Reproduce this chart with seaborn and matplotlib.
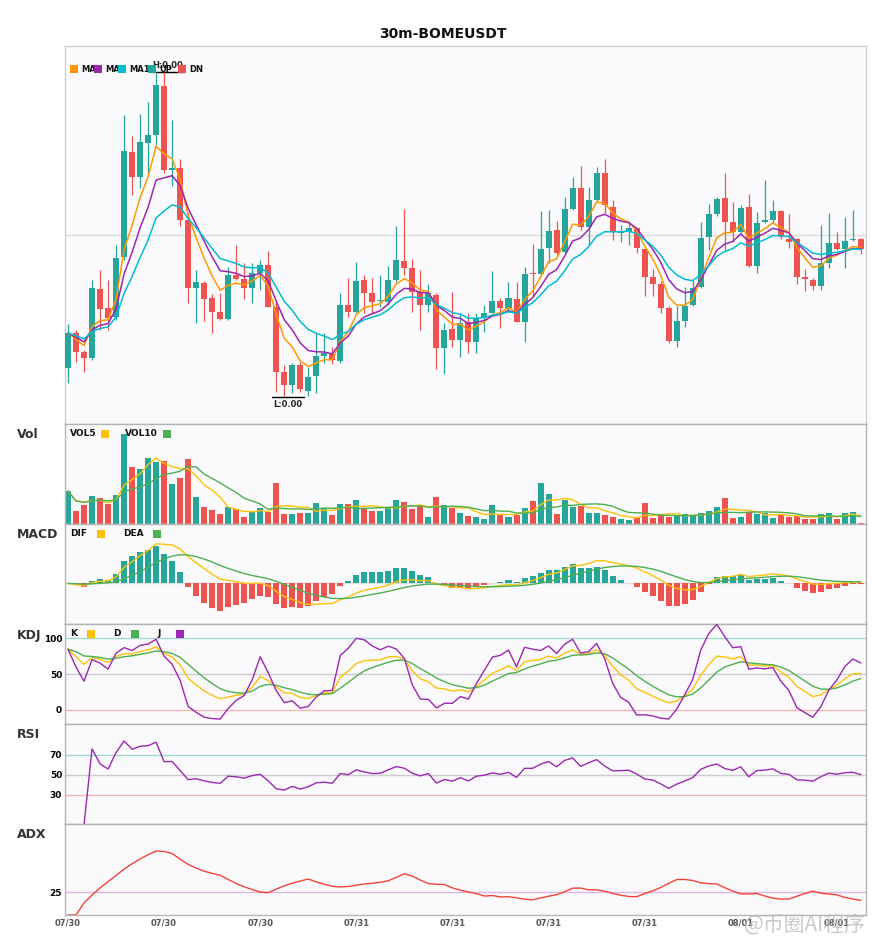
import numpy as np
import pandas as pd
import matplotlib
matplotlib.use("Agg")
import matplotlib.pyplot as plt
import seaborn as sns
from matplotlib.patches import Rectangle

TITLE = "30m-BOMEUSDT"
PRICE_UNIT = 1e-6  # list values below are in micro-USDT

open_u = [767, 802, 783, 777, 846, 827, 818, 878, 983, 958, 992, 1000, 1049, 965, 967, 915, 847, 852, 837, 823,
          816, 860, 856, 847, 862, 870, 828, 763, 750, 770, 744, 759, 779, 781, 774, 830, 823, 855, 842, 834,
          833, 855, 874, 867, 843, 830, 840, 787, 806, 795, 813, 793, 817, 822, 834, 827, 836, 813, 862, 861,
          887, 905, 883, 926, 947, 908, 935, 962, 928, 902, 903, 907, 886, 858, 851, 827, 794, 814, 830, 848,
          898, 921, 937, 913, 903, 928, 869, 913, 915, 924, 896, 896, 858, 855, 849, 872, 892, 886, 895, 896]
high_u = [811, 805, 785, 855, 865, 855, 890, 1020, 999, 1021, 1033, 1062, 1063, 1015, 976, 923, 865, 854, 841, 842,
          868, 890, 872, 872, 875, 884, 832, 770, 772, 773, 768, 802, 802, 788, 842, 857, 873, 860, 857, 860,
          869, 909, 926, 876, 865, 851, 842, 812, 843, 822, 822, 822, 830, 864, 837, 853, 853, 868, 891, 924,
          925, 914, 938, 958, 969, 948, 968, 976, 935, 910, 912, 907, 888, 866, 854, 829, 829, 848, 855, 913,
          931, 938, 962, 933, 930, 941, 923, 955, 935, 925, 921, 897, 866, 857, 910, 922, 903, 918, 925, 897]
low_u = [752, 773, 763, 775, 805, 805, 815, 875, 940, 947, 962, 990, 962, 949, 909, 832, 812, 814, 802, 815,
         815, 855, 836, 832, 845, 828, 743, 738, 742, 743, 739, 742, 772, 771, 772, 818, 822, 822, 821, 828,
         830, 853, 860, 823, 805, 823, 766, 761, 788, 778, 782, 782, 803, 822, 807, 823, 813, 793, 838, 859,
         872, 880, 882, 925, 905, 890, 933, 922, 895, 893, 890, 882, 839, 839, 822, 792, 788, 808, 829, 847,
         885, 919, 885, 893, 901, 868, 862, 912, 912, 896, 887, 851, 844, 845, 845, 867, 885, 867, 894, 881]
close_u = [802, 783, 777, 847, 826, 817, 877, 984, 958, 993, 1000, 1050, 965, 967, 915, 847, 853, 836, 823, 816,
           860, 856, 847, 862, 870, 828, 763, 750, 770, 746, 758, 779, 782, 775, 830, 823, 854, 842, 833, 835,
           855, 875, 867, 843, 830, 842, 787, 805, 795, 812, 793, 817, 822, 834, 827, 837, 813, 861, 861, 886,
           904, 882, 926, 947, 908, 935, 962, 930, 903, 904, 907, 887, 858, 851, 827, 794, 814, 829, 847, 897,
           921, 936, 913, 903, 927, 869, 912, 915, 924, 898, 893, 858, 856, 849, 872, 892, 886, 894, 896, 886]
volume = [33, 13, 19, 28, 26, 20, 29, 90, 57, 55, 66, 62, 63, 40, 46, 65, 27, 17, 14, 10,
          17, 15, 7, 12, 16, 12, 41, 10, 10, 11, 11, 21, 16, 9, 20, 20, 24, 15, 13, 13,
          16, 24, 22, 15, 18, 7, 27, 19, 16, 11, 8, 7, 5, 19, 9, 7, 9, 16, 23, 41,
          30, 10, 24, 17, 18, 11, 11, 9, 7, 5, 4, 6, 21, 6, 10, 7, 8, 10, 8, 11,
          13, 17, 26, 6, 7, 12, 10, 11, 6, 9, 7, 8, 5, 5, 10, 11, 5, 11, 12, 1]
tick_idx = [0, 12, 24, 36, 48, 60, 72, 84, 96]
tick_labels = ["07/30", "07/30", "07/30", "07/31", "07/31", "07/31", "07/31", "08/01", "08/01"]
ma_periods = [5, 8, 13]
REF_LEVEL_U = 900
kdj_levels = [0, 50, 100]
rsi_levels = [30, 50, 70]
adx_levels = [25]
WATERMARK = "@币圈AI程序"

UPC, DNC = "#26a69a", "#ef5350"
C_MA = ["#ff9800", "#9c27b0", "#00bcd4"]
C_Y, C_G, C_P = "#ffc107", "#4caf50", "#9c27b0"
C_ADX = "#f44336"
BG = "#fafafc"

sns.set_style("white")
plt.rcParams["font.family"] = ["DejaVu Sans", "Noto Sans CJK SC"]

# ---------------- data frame & indicators ----------------
df = pd.DataFrame({"open": open_u, "high": high_u, "low": low_u, "close": close_u, "vol": volume}, dtype=float)
df[["open", "high", "low", "close"]] *= PRICE_UNIT
x = np.arange(len(df))
c, h, l = df["close"], df["high"], df["low"]
up = (df["close"] >= df["open"]).values

mas = [c.ewm(span=p, adjust=False).mean() for p in ma_periods]
vol5 = df["vol"].rolling(5, min_periods=1).mean()
vol10 = df["vol"].rolling(10, min_periods=1).mean()

dif = c.ewm(span=12, adjust=False).mean() - c.ewm(span=26, adjust=False).mean()
dea = dif.ewm(span=9, adjust=False).mean()
hist = 2 * (dif - dea)

lown = l.rolling(9, min_periods=1).min()
highn = h.rolling(9, min_periods=1).max()
rsv = (c - lown) / (highn - lown) * 100
kk = rsv.ewm(com=2, adjust=False).mean()
dd = kk.ewm(com=2, adjust=False).mean()
jj = 3 * kk - 2 * dd

delta = c.diff()
gain = delta.clip(lower=0)
loss = -delta.clip(upper=0)
rsi = 100 * gain.ewm(com=13).mean() / (gain.ewm(com=13).mean() + loss.ewm(com=13).mean())

pc = c.shift(1)
tr = pd.concat([h - l, (h - pc).abs(), (l - pc).abs()], axis=1).max(axis=1)
upm = h.diff()
dnm = -l.diff()
pdm = pd.Series(np.where((upm > dnm) & (upm > 0), upm, 0.0))
mdm = pd.Series(np.where((dnm > upm) & (dnm > 0), dnm, 0.0))
str_ = tr.ewm(span=14, adjust=False).mean()
pdi = 100 * pdm.ewm(span=14, adjust=False).mean() / str_
mdi = 100 * mdm.ewm(span=14, adjust=False).mean() / str_
dx = (100 * (pdi - mdi).abs() / (pdi + mdi)).fillna(0)
adx = dx.ewm(span=14, adjust=False).mean()

# ---------------- figure layout ----------------
W, H = 885, 950
fig = plt.figure(figsize=(W / 100, H / 100), dpi=100)
LX, RX = 65.0, 865.7


def rect(top, bot):
    return [LX / W, 1 - bot / H, (RX - LX) / W, (bot - top) / H]


def fpos(px, py):
    return px / W, 1 - py / H


ax_main = fig.add_axes(rect(45.7, 424))
ax_vol = fig.add_axes(rect(424, 524))
ax_macd = fig.add_axes(rect(524, 624))
ax_kdj = fig.add_axes(rect(624, 724))
ax_rsi = fig.add_axes(rect(724, 824))
ax_adx = fig.add_axes(rect(824, 915))
axes = [ax_main, ax_vol, ax_macd, ax_kdj, ax_rsi, ax_adx]

for a in axes:
    a.set_facecolor(BG)
    for s in a.spines.values():
        s.set_color("#b4b4b4")
        s.set_linewidth(1.0)
    a.set_xticks(tick_idx)
    a.tick_params(length=0)
    a.set_xticklabels([])
    a.set_yticks([])
for s in ax_main.spines.values():
    s.set_color("#d0d0d0")

# ---------------- main candles ----------------
ax_main.axhline(REF_LEVEL_U * PRICE_UNIT, color="#dddddd", lw=1.0, zorder=0)
colors = np.where(up, UPC, DNC)
ax_main.vlines(x, l, h, colors=colors, lw=0.9, zorder=2)
body_lo = np.minimum(df["open"], df["close"])
body_h = np.maximum((df["close"] - df["open"]).abs(), 1.0 * PRICE_UNIT)
ax_main.bar(x, body_h, bottom=body_lo, width=0.75, color=colors, zorder=3, linewidth=0)
for s, col in zip(mas, C_MA):
    sns.lineplot(x=x, y=s.values, ax=ax_main, color=col, lw=1.1, legend=False, zorder=4)
lo, hi = l.min(), h.max()
rng = hi - lo
ax_main.set_ylim(lo - 0.083 * rng, hi + 0.081 * rng)
ax_main.set_yticks([])
hi_i, lo_i = int(h.values.argmax()), int(l.values.argmin())
ax_main.plot([hi_i - 1.5, hi_i + 2.5], [hi, hi], color="black", lw=1.0, zorder=5)
ax_main.annotate(f"H:{hi:.2f}", xy=(hi_i + 0.5, hi), xytext=(0, 1.5), textcoords="offset points",
                 ha="center", va="bottom", fontsize=6, weight="bold", zorder=6)
ax_main.plot([lo_i - 1.5, lo_i + 2.5], [lo, lo], color="black", lw=1.0, zorder=5)
ax_main.annotate(f"L:{lo:.2f}", xy=(lo_i + 0.5, lo), xytext=(0, -2.5), textcoords="offset points",
                 ha="center", va="top", fontsize=6, weight="bold", zorder=6)

# ---------------- volume ----------------
ax_vol.bar(x, df["vol"], width=0.75, color=colors, linewidth=0, zorder=2)
sns.lineplot(x=x, y=vol5.values, ax=ax_vol, color=C_Y, lw=1.0, legend=False, zorder=3)
sns.lineplot(x=x, y=vol10.values, ax=ax_vol, color=C_G, lw=1.0, legend=False, zorder=3)
ax_vol.set_ylim(0, df["vol"].max() * 1.11)

# ---------------- MACD ----------------
ax_macd.axhline(0, color="#dddddd", lw=1.0, zorder=0)
ax_macd.bar(x, hist, width=0.75, color=np.where(hist >= 0, UPC, DNC), linewidth=0, zorder=2)
sns.lineplot(x=x, y=dif.values, ax=ax_macd, color=C_Y, lw=1.0, legend=False, zorder=3)
sns.lineplot(x=x, y=dea.values, ax=ax_macd, color=C_G, lw=1.0, legend=False, zorder=3)
mx = max(dif.max(), dea.max(), hist.max())
mn = min(dif.min(), dea.min(), hist.min())
ax_macd.set_ylim(1.48 * mn, 1.5 * mx)

# ---------------- KDJ ----------------
for lv, col in zip(kdj_levels, ["#f7b3b3", "#cccccc", "#a3d9d0"]):
    ax_kdj.axhline(lv, color=col, lw=1.0, zorder=0)
sns.lineplot(x=x, y=kk.values, ax=ax_kdj, color=C_Y, lw=1.0, legend=False, zorder=3)
sns.lineplot(x=x, y=dd.values, ax=ax_kdj, color=C_G, lw=1.0, legend=False, zorder=3)
sns.lineplot(x=x, y=jj.values, ax=ax_kdj, color=C_P, lw=1.0, legend=False, zorder=3)
ax_kdj.set_ylim(-20, 120)
ax_kdj.set_yticks(kdj_levels)

# ---------------- RSI ----------------
for lv, col in zip(rsi_levels, ["#f7b3b3", "#cccccc", "#a3d9d0"]):
    ax_rsi.axhline(lv, color=col, lw=1.0, zorder=0)
sns.lineplot(x=x, y=rsi.values, ax=ax_rsi, color=C_P, lw=1.0, legend=False, zorder=3)
ax_rsi.set_ylim(1, 101)
ax_rsi.set_yticks(rsi_levels)

# ---------------- ADX ----------------
for lv in adx_levels:
    ax_adx.axhline(lv, color="#dcb6e0", lw=1.0, zorder=0)
sns.lineplot(x=x, y=adx.values, ax=ax_adx, color=C_ADX, lw=1.0, legend=False, zorder=3)
ax_adx.set_ylim(0, 100)
ax_adx.set_yticks(adx_levels)
ax_adx.set_xticklabels(tick_labels)

for a in axes:
    a.set_xlim(-0.375, 99.6)
    a.set_xlabel("")
    a.set_ylabel("")
    a.tick_params(axis="y", labelsize=6.5, pad=2, labelcolor="black")
    for t in a.get_yticklabels():
        t.set_fontweight("bold")
ax_adx.tick_params(axis="x", labelsize=6, pad=2.5, labelcolor="#555555")
for t in ax_adx.get_xticklabels():
    t.set_fontweight("bold")

# ---------------- texts / legends ----------------
fig.text(*fpos(442.5, 34), TITLE, ha="center", va="center", fontsize=10, weight="bold", color="#111111")
for name, py in [("Vol", 435), ("MACD", 535), ("KDJ", 635), ("RSI", 735), ("ADX", 835)]:
    fig.text(*fpos(17, py), name, ha="left", va="center", fontsize=9, weight="bold", color="#333333")


def square(px, py, col, z=6):
    fx, fy = fpos(px, py + 8)
    fig.add_artist(Rectangle((fx, fy), 8 / W, 8 / H, transform=fig.transFigure,
                             facecolor=col, edgecolor="none", zorder=z))


# main legend (texts partly hidden beneath the next square, as in the original)
main_items = [(70, C_MA[0], f"MA{ma_periods[0]}"), (94, C_MA[1], f"MA{ma_periods[1]}"),
              (118, C_MA[2], f"MA{ma_periods[2]}"), (148, UPC, "UP"), (178, DNC, "DN")]
for px, col, lab in main_items:
    fig.text(*fpos(px + 11, 69.5), lab, ha="left", va="center", fontsize=6, weight="bold",
             color="#111111", zorder=5)
    square(px, 65, col, z=7)

for items, py in [([("VOL5", 70, 101, C_Y), ("VOL10", 125, 163, C_G)], 434),
                  ([("DIF", 70, 97, C_Y), ("DEA", 123, 153, C_G)], 534),
                  ([("K", 70, 87, C_Y), ("D", 113, 131, C_G), ("J", 157, 176, C_P)], 634)]:
    for lab, tx, sx, col in items:
        fig.text(*fpos(tx, py), lab, ha="left", va="center", fontsize=6.5, weight="bold", color="#111111")
        square(sx, py - 4, col)

fig.text(*fpos(805, 925), WATERMARK, ha="center", va="center", fontsize=15, color="#b8b8b8", alpha=0.75,
         family=["Noto Sans CJK SC", "DejaVu Sans"], zorder=10)

fig.savefig("out.png", dpi=100, facecolor="white")
